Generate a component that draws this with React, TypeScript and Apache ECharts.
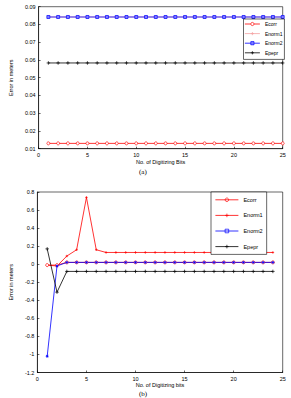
import React, { useEffect, useRef } from "react";
import * as echarts from "echarts";

const bitsA = Array.from({ length: 25 }, (_, i) => i + 1);
const bitsB = Array.from({ length: 24 }, (_, i) => i + 1);

const aEcorr = [0.013,0.013,0.013,0.013,0.013,0.013,0.013,0.013,0.013,0.013,0.013,0.013,0.013,0.013,0.013,0.013,0.013,0.013,0.013,0.013,0.013,0.013,0.013,0.013,0.013];
const aEnorm1 = [0.0842,0.0842,0.0842,0.0842,0.0842,0.0842,0.0842,0.0842,0.0842,0.0842,0.0842,0.0842,0.0842,0.0842,0.0842,0.0842,0.0842,0.0842,0.0842,0.0842,0.0842,0.0842,0.0842,0.0842,0.0842];
const aEnorm2 = [0.0842,0.0842,0.0842,0.0842,0.0842,0.0842,0.0842,0.0842,0.0842,0.0842,0.0842,0.0842,0.0842,0.0842,0.0842,0.0842,0.0842,0.0842,0.0842,0.0842,0.0842,0.0842,0.0842,0.0842,0.0842];
const aEpepr = [0.0583,0.0583,0.0583,0.0583,0.0583,0.0583,0.0583,0.0583,0.0583,0.0583,0.0583,0.0583,0.0583,0.0583,0.0583,0.0583,0.0583,0.0583,0.0583,0.0583,0.0583,0.0583,0.0583,0.0583,0.0583];

const bEcorr = [-0.01,-0.01,0.02,0.02,0.02,0.02,0.02,0.02,0.02,0.02,0.02,0.02,0.02,0.02,0.02,0.02,0.02,0.02,0.02,0.02,0.02,0.02,0.02,0.02];
const bEnorm1 = [-0.01,-0.02,0.09,0.16,0.74,0.16,0.13,0.13,0.13,0.13,0.13,0.13,0.13,0.13,0.13,0.13,0.13,0.13,0.13,0.13,0.13,0.13,0.13,0.13];
const bEnorm2 = [-1.02,-0.02,0.02,0.02,0.02,0.02,0.02,0.02,0.02,0.02,0.02,0.02,0.02,0.02,0.02,0.02,0.02,0.02,0.02,0.02,0.02,0.02,0.02,0.02];
const bEpepr = [0.17,-0.31,-0.08,-0.08,-0.08,-0.08,-0.08,-0.08,-0.08,-0.08,-0.08,-0.08,-0.08,-0.08,-0.08,-0.08,-0.08,-0.08,-0.08,-0.08,-0.08,-0.08,-0.08,-0.08];

const seriesNames = ["Ecorr", "Enorm1", "Enorm2", "Epepr"];

const FONT = "Liberation Sans";
const PLUS = "path://M5,0L5,10M0,5L10,5";
const STAR = "path://M5,0L5,10M0,5L10,5M1.5,1.5L8.5,8.5M8.5,1.5L1.5,8.5";

const RED = "#ff0000";
const PINK = "#f4a0a0";
const BLUE = "#0000ff";
const BLACK = "#000000";

function pair(xs: number[], ys: number[]) {
  return xs.map((x, i) => [x, ys[i]]);
}

export default function App() {
  const ref = useRef<HTMLDivElement>(null);
  useEffect(() => {
    const chart = echarts.init(ref.current!, null, { renderer: "svg" });
    const axisLabel = { fontSize: 5.5, color: "#000", fontFamily: FONT, margin: 3 };
    const xAxisBase = (gi: number, name: string) => ({
      type: "value",
      gridIndex: gi,
      min: 0,
      max: 25,
      interval: 5,
      name,
      nameLocation: "middle",
      nameGap: 8,
      nameTextStyle: { fontSize: 5.5, color: "#000", fontFamily: FONT },
      axisLine: { onZero: false, lineStyle: { color: "#000", width: 0.6 } },
      axisTick: { inside: true, length: 2, lineStyle: { color: "#000", width: 0.6 } },
      axisLabel,
      splitLine: { show: false },
    });
    const yAxisBase = (gi: number, min: number, max: number, interval: number, fmt: (v: number) => string) => ({
      type: "value",
      gridIndex: gi,
      min,
      max,
      interval,
      name: "Error in meters",
      nameLocation: "middle",
      nameGap: 13,
      nameRotate: 90,
      nameTextStyle: { fontSize: 5.5, color: "#000", fontFamily: FONT },
      axisLine: { show: true, onZero: false, lineStyle: { color: "#000", width: 0.6 } },
      axisTick: { inside: true, length: 2, lineStyle: { color: "#000", width: 0.6 } },
      axisLabel: { ...axisLabel, formatter: fmt },
      splitLine: { show: false },
    });
    const lineSeries = (
      name: string, xi: number, data: number[][], color: string, symbol: string,
      symbolSize: number, fill: string
    ) => ({
      type: "line",
      name,
      xAxisIndex: xi,
      yAxisIndex: xi,
      data,
      symbol,
      symbolSize,
      showSymbol: true,
      lineStyle: { color, width: 0.8 },
      itemStyle: { color: fill, borderColor: color, borderWidth: 0.7 },
      emphasis: { disabled: true },
    });
    const legendStyle = {
      orient: "vertical",
      backgroundColor: "#fff",
      borderColor: "#000",
      borderWidth: 0.6,
      borderRadius: 0,
      textStyle: { fontSize: 5, color: "#000", fontFamily: FONT },
      selectedMode: false,
    };
    const option: any = {
      animation: false,
      backgroundColor: "#fff",
      textStyle: { fontFamily: FONT },
      grid: [
        { left: 20.7, top: 6.7, width: 262, height: 142, show: true, borderColor: "#000", borderWidth: 0.6, backgroundColor: "transparent" },
        { left: 20.7, top: 192, width: 262, height: 180.5, show: true, borderColor: "#000", borderWidth: 0.6, backgroundColor: "transparent" },
      ],
      xAxis: [
        xAxisBase(0, "No. of Digitizing Bits"),
        xAxisBase(1, "No. of Digitizing bits"),
      ],
      yAxis: [
        yAxisBase(0, 0.01, 0.09, 0.01, (v: number) => v.toFixed(2)),
        yAxisBase(1, -1.2, 0.8, 0.2, (v: number) => {
          const r = Math.round(v * 10) / 10;
          return r === 0 ? "0" : String(r);
        }),
      ],
      legend: [
        {
          ...legendStyle,
          left: 243.5,
          top: 19,
          padding: [2.5, 2, 2.5, 1],
          itemWidth: 15,
          itemHeight: 4,
          itemGap: 3,
          data: [
            { name: seriesNames[0], itemStyle: { color: "#fff", borderColor: RED, borderWidth: 0.7 }, lineStyle: { color: RED, width: 0.8 } },
            { name: seriesNames[1], itemStyle: { color: "none", borderColor: PINK, borderWidth: 0.7 }, lineStyle: { color: PINK, width: 0.8 } },
            { name: seriesNames[2], itemStyle: { color: "#8080ff", borderColor: BLUE, borderWidth: 0.7 }, lineStyle: { color: BLUE, width: 0.8 } },
            { name: seriesNames[3], itemStyle: { color: "none", borderColor: BLACK, borderWidth: 0.7 }, lineStyle: { color: BLACK, width: 0.8 } },
          ],
        },
        {
          ...legendStyle,
          left: 211,
          top: 192,
          padding: [3.5, 4, 3.5, 4],
          itemWidth: 23,
          itemHeight: 4.5,
          itemGap: 7,
          textStyle: { fontSize: 5.5, color: "#000", fontFamily: FONT },
          data: [
            { name: seriesNames[0], itemStyle: { color: "none", borderColor: RED, borderWidth: 0.7 }, lineStyle: { color: RED, width: 0.8 } },
            { name: seriesNames[1], itemStyle: { color: "none", borderColor: RED, borderWidth: 0.7 }, lineStyle: { color: RED, width: 0.8 } },
            { name: seriesNames[2], itemStyle: { color: "none", borderColor: BLUE, borderWidth: 0.7 }, lineStyle: { color: BLUE, width: 0.8 } },
            { name: seriesNames[3], itemStyle: { color: "none", borderColor: BLACK, borderWidth: 0.7 }, lineStyle: { color: BLACK, width: 0.8 } },
          ],
        },
      ],
      series: [
        lineSeries(seriesNames[0], 0, pair(bitsA, aEcorr), RED, "circle", 3, "#fff"),
        lineSeries(seriesNames[1], 0, pair(bitsA, aEnorm1), PINK, PLUS, 3, "none"),
        lineSeries(seriesNames[2], 0, pair(bitsA, aEnorm2), BLUE, "rect", 3, "#8080ff"),
        lineSeries(seriesNames[3], 0, pair(bitsA, aEpepr), BLACK, PLUS, 3.5, "none"),
        lineSeries(seriesNames[1], 1, pair(bitsB, bEnorm1), RED, PLUS, 2.5, "none"),
        lineSeries(seriesNames[0], 1, pair(bitsB, bEcorr), RED, "circle", 3, "#fff"),
        lineSeries(seriesNames[2], 1, pair(bitsB, bEnorm2), BLUE, STAR, 3, "none"),
        lineSeries(seriesNames[3], 1, pair(bitsB, bEpepr), BLACK, PLUS, 3.5, "none"),
      ],
      graphic: [
        { type: "text", left: 139, top: 168, style: { text: "(a)", fontSize: 7, fontFamily: "Liberation Serif", fill: "#000" } },
        { type: "text", left: 139, top: 390, style: { text: "(b)", fontSize: 7, fontFamily: "Liberation Serif", fill: "#000" } },
      ],
    };
    chart.setOption(option);
    return () => chart.dispose();
  }, []);
  return <div ref={ref} style={{ width: 291, height: 398, position: "absolute", left: 0, top: 0 }} />;
}
